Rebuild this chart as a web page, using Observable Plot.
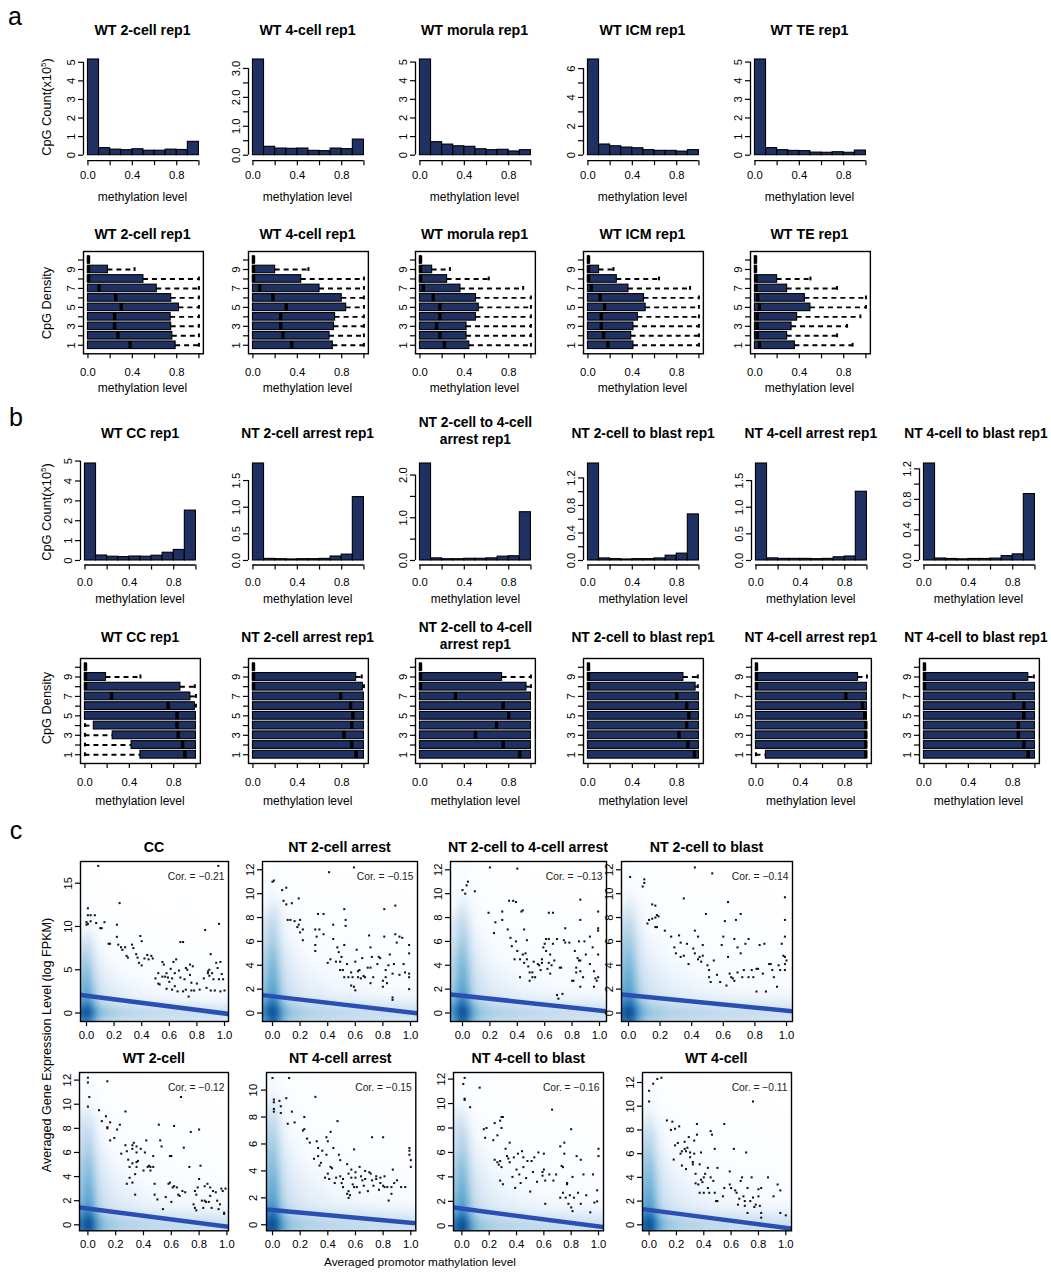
<!DOCTYPE html>
<html><head><meta charset="utf-8">
<script src="https://cdn.jsdelivr.net/npm/d3@7"></script>
<script src="https://cdn.jsdelivr.net/npm/@observablehq/plot@0.6"></script>
<style>
body{margin:0;background:#fff;}
#page{position:relative;width:1051px;height:1273px;background:#fff;overflow:hidden;font-family:"Liberation Sans",Arial,Helvetica,sans-serif;color:#000;}
.lbl{position:absolute;white-space:nowrap;line-height:1;text-align:center;}
.lbl sup{font-size:8px;vertical-align:5px;line-height:0;}
</style></head><body><div id="page"></div><script>
// ---------------- DATA ----------------
const binEdges = [0, 0.1, 0.2, 0.3, 0.4, 0.5, 0.6, 0.7, 0.8, 0.9, 1.0];
const xTicks = [0, 0.2, 0.4, 0.6, 0.8, 1.0];
const xLabelsSparse = ["0.0", "", "0.4", "", "0.8", ""];
const xLabelsFull = ["0.0", "0.2", "0.4", "0.6", "0.8", "1.0"];
const densityTicks = [1, 2, 3, 4, 5, 6, 7, 8, 9, 10];
const densityLabels = ["1", "", "3", "", "5", "", "7", "", "9", ""];

// panel a histograms (CpG count, x10^5)
const titlesA = ["WT 2-cell rep1", "WT 4-cell rep1", "WT morula rep1", "WT ICM rep1", "WT TE rep1"];
const histWT2cell = [5.15, 0.38, 0.30, 0.27, 0.32, 0.24, 0.24, 0.30, 0.28, 0.72];
const histWT4cell = [3.31, 0.29, 0.23, 0.22, 0.23, 0.15, 0.14, 0.23, 0.21, 0.54];
const histWTmorula = [5.14, 0.70, 0.57, 0.48, 0.45, 0.32, 0.27, 0.29, 0.20, 0.27];
const histWTICM = [6.63, 0.74, 0.62, 0.53, 0.48, 0.35, 0.30, 0.30, 0.25, 0.35];
const histWTTE = [5.14, 0.38, 0.27, 0.23, 0.22, 0.14, 0.13, 0.16, 0.13, 0.25];
const yTicksA = [[0,1,2,3,4,5],[0,0.5,1,1.5,2,2.5,3],[0,1,2,3,4,5],[0,1,2,3,4,5,6],[0,1,2,3,4,5]];
const yLabelsA = [["0","1","2","3","4","5"],["0.0","","1.0","","2.0","","3.0"],["0","1","2","3","4","5"],["0","","2","","4","","6"],["0","1","2","3","4","5"]];

// panel a boxplots by CpG density (rows 1..10)
const boxWT2cell = {q3:[0.79,0.76,0.75,0.745,0.82,0.75,0.62,0.50,0.18,0.015], med:[0.38,0.27,0.24,0.24,0.30,0.25,0.10,0.005,0.005,0.005], hi:[1,1,1,1,1,1,1,1,0.42,0.015]};
const boxWT4cell = {q3:[0.72,0.69,0.73,0.74,0.84,0.80,0.60,0.435,0.20,0.015], med:[0.35,0.27,0.25,0.25,0.30,0.18,0.06,0.005,0.005,0.005], hi:[1,1,1,1,1,1,1,1,0.50,0.015]};
const boxWTmorula = {q3:[0.445,0.42,0.42,0.505,0.53,0.505,0.365,0.245,0.11,0.015], med:[0.22,0.18,0.15,0.18,0.18,0.12,0.03,0.005,0.005,0.005], hi:[1,1,1,1,1,1,0.93,0.62,0.27,0.015]};
const boxWTICM = {q3:[0.41,0.39,0.41,0.45,0.52,0.505,0.365,0.26,0.10,0.015], med:[0.18,0.14,0.12,0.12,0.15,0.11,0.03,0.005,0.005,0.005], hi:[1,1,1,1,1,1,0.92,0.64,0.23,0.015]};
const boxWTTE = {q3:[0.36,0.29,0.33,0.38,0.50,0.45,0.29,0.20,0.015,0.015], med:[0.04,0.02,0.02,0.02,0.04,0.025,0.01,0.01,0.005,0.005], hi:[0.88,0.74,0.83,0.95,1,1,0.74,0.50,0.015,0.015]};

// panel b histograms
const titlesB = ["WT CC rep1", "NT 2-cell arrest rep1", "NT 2-cell to 4-cell<br>arrest rep1", "NT 2-cell to blast rep1", "NT 4-cell arrest rep1", "NT 4-cell to blast rep1"];
const histWTCC = [4.88, 0.25, 0.19, 0.17, 0.20, 0.19, 0.24, 0.39, 0.53, 2.51];
const histNT2arrest = [1.82, 0.03, 0.025, 0.02, 0.025, 0.025, 0.03, 0.075, 0.11, 1.19];
const histNT2to4 = [2.27, 0.05, 0.03, 0.03, 0.04, 0.04, 0.05, 0.09, 0.10, 1.13];
const histNT2blast = [1.41, 0.03, 0.02, 0.015, 0.02, 0.02, 0.03, 0.07, 0.10, 0.67];
const histNT4arrest = [1.82, 0.04, 0.03, 0.03, 0.03, 0.025, 0.03, 0.06, 0.075, 1.29];
const histNT4blast = [1.27, 0.026, 0.02, 0.015, 0.02, 0.02, 0.025, 0.057, 0.08, 0.87];
const yTicksB = [[0,1,2,3,4,5],[0,0.5,1,1.5],[0,0.5,1,1.5,2],[0,0.2,0.4,0.6,0.8,1.0,1.2],[0,0.5,1,1.5],[0,0.2,0.4,0.6,0.8,1.0,1.2]];
const yLabelsB = [["0","1","2","3","4","5"],["0.0","0.5","1.0","1.5"],["0.0","","1.0","","2.0"],["0.0","","0.4","","0.8","","1.2"],["0.0","0.5","1.0","1.5"],["0.0","","0.4","","0.8","","1.2"]];

// panel b boxplots
const boxWTCC = {lo:[0,0,0,0,0,0,0,0,0,0], q1:[0.5,0.42,0.25,0.08,0,0,0,0,0,0], med:[0.90,0.88,0.84,0.83,0.83,0.75,0.24,0.005,0.005,0.005], q3:[1,1,1,1,1,0.99,0.95,0.86,0.19,0.015], hi:[1,1,1,1,1,1,1,0.99,0.5,0.015]};
const boxNT2arrest = {med:[0.93,0.89,0.82,0.89,0.90,0.88,0.79,0.005,0.005,0.005], q3:[1,1,1,1,1,1,1,0.99,0.93,0.015], hi:[1,1,1,1,1,1,1,1,0.98,0.015]};
const boxNT2to4 = {med:[0.90,0.75,0.50,0.69,0.80,0.75,0.32,0.005,0.005,0.005], q3:[1,1,1,1,1,1,1,0.96,0.74,0.015], hi:[1,1,1,1,1,1,1,1,1,0.015]};
const boxNT2blast = {med:[0.96,0.90,0.82,0.89,0.91,0.89,0.80,0.005,0.005,0.005], q3:[1,1,1,1,1,1,1,0.97,0.86,0.015], hi:[1,1,1,1,1,1,1,0.99,0.99,0.015]};
const boxNT4arrest = {lo:[0,0,0,0,0,0,0,0,0,0], q1:[0.09,0,0,0,0,0,0,0,0,0], med:[0.99,0.99,0.99,0.99,0.98,0.96,0.81,0.005,0.005,0.005], q3:[1,1,1,1,1,1,1,1,0.92,0.015], hi:[1,1,1,1,1,1,1,1,1,0.015]};
const boxNT4blast = {med:[0.94,0.90,0.85,0.85,0.90,0.90,0.81,0.005,0.005,0.005], q3:[1,1,1,1,1,1,1,1,0.94,0.015], hi:[1,1,1,1,1,1,1,1,0.99,0.015]};

// panel c scatter (expression vs promoter methylation)
const titlesC = ["CC", "NT 2-cell arrest", "NT 2-cell to 4-cell arrest", "NT 2-cell to blast", "WT 2-cell", "NT 4-cell arrest", "NT 4-cell to blast", "WT 4-cell"];
const corLabels = ["Cor. = \u22120.21", "Cor. = \u22120.15", "Cor. = \u22120.13", "Cor. = \u22120.14", "Cor. = \u22120.12", "Cor. = \u22120.15", "Cor. = \u22120.16", "Cor. = \u22120.11"];
const regIntercept = [2.0, 1.4, 1.45, 1.5, 1.35, 1.1, 1.4, 1.25];
const regSlope = [-2.05, -1.35, -1.25, -1.3, -1.5, -0.95, -1.45, -1.5];
const yTicksC = [[0,5,10,15],[0,2,4,6,8,10,12],[0,2,4,6,8,10,12],[0,2,4,6,8,10,12],[0,2,4,6,8,10,12],[0,2,4,6,8,10],[0,2,4,6,8,10,12],[0,2,4,6,8,10,12]];

const ptsCC = [[0.01,12.1],[0.01,11.3],[0.03,11.3],[0.06,11.3],[0.0,10.5],[0.01,10.3],[0.03,10.6],[0.07,10.4],[0.0,10.2],[0.085,17.0],[0.10,9.8],[0.11,9.8],[0.13,10.5],[0.16,8.0],[0.17,8.0],[0.22,10.2],[0.24,12.7],[0.22,8.8],[0.23,7.9],[0.25,7.6],[0.26,7.3],[0.28,7.6],[0.29,6.6],[0.30,6.4],[0.33,7.9],[0.34,7.5],[0.36,6.8],[0.37,6.4],[0.38,5.8],[0.39,8.9],[0.40,8.3],[0.40,5.5],[0.42,6.3],[0.44,6.7],[0.45,6.2],[0.47,6.6],[0.48,6.3],[0.50,4.0],[0.52,4.6],[0.52,3.4],[0.53,3.3],[0.55,5.9],[0.56,5.6],[0.57,4.2],[0.58,4.6],[0.58,2.8],[0.59,4.1],[0.60,3.6],[0.61,5.1],[0.62,2.7],[0.62,4.0],[0.63,5.9],[0.64,3.1],[0.65,6.2],[0.66,2.5],[0.67,4.9],[0.68,8.2],[0.70,8.2],[0.70,2.5],[0.71,3.9],[0.72,2.7],[0.72,5.2],[0.73,5.0],[0.74,1.9],[0.75,5.6],[0.75,4.4],[0.76,2.6],[0.76,3.5],[0.77,5.4],[0.78,2.6],[0.80,3.4],[0.82,2.7],[0.85,4.0],[0.86,9.6],[0.87,2.9],[0.88,4.6],[0.89,5.0],[0.89,4.3],[0.90,6.8],[0.90,2.6],[0.91,4.6],[0.92,3.9],[0.93,2.6],[0.94,5.8],[0.95,5.2],[0.96,10.3],[0.96,3.9],[0.97,5.9],[0.98,4.5],[0.99,3.9],[1.0,2.6],[0.97,2.5],[0.55,4.2],[0.64,4.6],[0.68,4.1],[0.88,4.8],[0.955,17.0]];
const ptsNT2arrest = [[0.0,11.0],[0.01,11.1],[0.07,10.3],[0.10,10.5],[0.08,9.4],[0.10,9.1],[0.14,9.2],[0.19,9.6],[0.11,7.8],[0.13,7.8],[0.16,7.7],[0.18,7.2],[0.19,7.4],[0.20,7.8],[0.22,7.0],[0.20,6.75],[0.22,6.1],[0.31,5.2],[0.31,5.7],[0.31,7.0],[0.32,6.4],[0.33,8.3],[0.37,8.3],[0.34,7.0],[0.37,6.6],[0.40,4.2],[0.42,4.5],[0.44,7.4],[0.44,6.2],[0.46,4.3],[0.47,5.5],[0.48,5.1],[0.49,4.3],[0.49,3.6],[0.50,4.7],[0.51,3.6],[0.52,8.7],[0.53,7.8],[0.53,7.3],[0.52,5.7],[0.52,3.0],[0.54,4.1],[0.55,3.0],[0.57,3.4],[0.57,2.3],[0.58,3.0],[0.59,2.2],[0.60,1.9],[0.60,4.3],[0.61,5.3],[0.62,3.0],[0.63,3.6],[0.64,2.9],[0.65,4.6],[0.67,3.0],[0.69,3.8],[0.70,6.5],[0.71,3.8],[0.71,5.5],[0.71,2.5],[0.72,4.7],[0.73,3.0],[0.76,4.1],[0.77,4.7],[0.78,4.6],[0.80,2.7],[0.80,2.2],[0.81,8.7],[0.81,6.4],[0.82,3.6],[0.83,2.5],[0.84,4.0],[0.85,4.9],[0.87,1.3],[0.87,1.1],[0.88,4.1],[0.89,9.0],[0.89,6.6],[0.90,5.9],[0.92,3.2],[0.92,6.4],[0.94,6.3],[0.95,4.1],[0.96,3.4],[0.99,5.7],[0.99,5.0],[0.99,3.3],[0.99,2.0],[0.99,3.0],[0.59,12.2],[0.41,11.8],[0.87,3.3],[0.82,3.0],[0.62,3.5],[0.66,3.1]];
const ptsNT2to4 = [[0.0,10.3],[0.03,10.7],[0.04,11.0],[0.02,10.0],[0.09,10.2],[0.20,12.2],[0.19,8.4],[0.24,7.6],[0.23,6.7],[0.29,8.5],[0.29,7.8],[0.33,7.0],[0.34,9.4],[0.37,9.4],[0.39,9.3],[0.35,6.3],[0.36,5.6],[0.38,4.5],[0.39,6.0],[0.40,5.2],[0.42,4.5],[0.42,3.0],[0.43,8.5],[0.44,8.6],[0.44,4.9],[0.45,7.0],[0.45,4.2],[0.47,6.1],[0.47,4.5],[0.48,3.9],[0.49,3.4],[0.49,2.7],[0.51,3.0],[0.51,3.4],[0.53,3.0],[0.40,12.1],[0.56,4.0],[0.58,4.2],[0.58,4.5],[0.59,5.5],[0.60,5.8],[0.61,5.2],[0.61,6.2],[0.62,3.7],[0.63,4.2],[0.63,8.4],[0.63,6.2],[0.64,3.3],[0.64,4.9],[0.65,4.0],[0.66,5.8],[0.66,8.4],[0.67,4.4],[0.69,6.2],[0.69,1.5],[0.70,1.2],[0.71,3.8],[0.72,3.8],[0.73,1.6],[0.74,6.1],[0.75,7.1],[0.75,5.9],[0.78,5.9],[0.80,2.7],[0.81,2.7],[0.82,5.2],[0.83,3.8],[0.83,3.4],[0.84,4.6],[0.85,6.0],[0.85,4.4],[0.86,4.4],[0.86,9.5],[0.86,7.8],[0.86,3.5],[0.86,2.2],[0.88,3.0],[0.89,6.0],[0.90,4.9],[0.93,4.1],[0.93,6.4],[0.95,5.5],[0.96,3.5],[0.96,2.2],[0.97,2.9],[0.98,2.7],[0.99,7.1],[0.99,6.9],[0.99,8.5],[0.99,4.9],[0.99,3.0],[0.55,4.1],[0.52,4.3],[0.57,3.6],[0.46,5.0]];
const ptsNT2blast = [[0.01,11.4],[0.09,10.6],[0.10,10.9],[0.10,11.2],[0.15,9.1],[0.17,9.0],[0.12,7.5],[0.13,7.8],[0.15,7.9],[0.17,8.0],[0.18,8.2],[0.19,8.1],[0.17,7.2],[0.18,7.2],[0.23,6.9],[0.27,6.4],[0.29,5.5],[0.30,5.0],[0.32,6.5],[0.33,4.7],[0.33,5.9],[0.35,9.6],[0.35,4.8],[0.37,5.8],[0.38,4.1],[0.41,5.4],[0.42,6.9],[0.42,12.2],[0.42,5.0],[0.44,4.5],[0.44,6.4],[0.45,4.7],[0.46,4.3],[0.47,5.7],[0.47,4.8],[0.49,8.3],[0.50,4.0],[0.51,3.6],[0.51,3.0],[0.52,2.6],[0.53,11.7],[0.54,4.4],[0.58,2.6],[0.59,5.7],[0.60,6.4],[0.61,7.7],[0.62,2.3],[0.63,4.7],[0.63,9.3],[0.64,3.3],[0.65,3.0],[0.66,2.9],[0.67,6.2],[0.67,2.7],[0.68,7.8],[0.69,5.5],[0.71,5.0],[0.71,8.3],[0.72,3.0],[0.73,3.6],[0.74,5.8],[0.76,6.2],[0.76,3.0],[0.78,3.6],[0.79,3.0],[0.81,3.7],[0.81,1.8],[0.82,3.7],[0.83,5.7],[0.85,3.3],[0.86,5.8],[0.87,1.8],[0.89,4.1],[0.90,4.1],[0.91,3.6],[0.92,3.0],[0.94,2.2],[0.95,4.0],[0.96,3.6],[0.97,5.8],[0.98,4.8],[0.99,9.7],[0.99,7.8],[0.99,6.4],[0.99,4.7],[0.99,4.1],[0.99,3.6],[1.0,4.4],[0.56,3.2],[0.69,3.4]];
const ptsWT2cell = [[0.0,9.8],[0.0,12.2],[0.0,11.8],[0.01,10.6],[0.08,9.5],[0.10,8.6],[0.13,9.0],[0.14,8.1],[0.14,8.0],[0.14,11.9],[0.16,8.5],[0.16,7.0],[0.19,7.2],[0.21,7.9],[0.23,8.3],[0.24,5.9],[0.27,9.4],[0.27,6.6],[0.28,6.1],[0.28,3.4],[0.29,5.4],[0.30,4.8],[0.30,3.9],[0.32,6.6],[0.32,6.3],[0.32,5.1],[0.32,3.5],[0.33,6.8],[0.34,4.2],[0.34,2.5],[0.35,6.5],[0.35,6.0],[0.35,5.2],[0.35,4.8],[0.36,5.3],[0.38,6.3],[0.40,4.5],[0.41,6.0],[0.42,7.0],[0.43,4.8],[0.44,4.9],[0.45,4.5],[0.45,4.8],[0.47,4.8],[0.47,5.7],[0.48,3.4],[0.48,2.5],[0.50,2.1],[0.51,8.3],[0.52,7.0],[0.53,6.5],[0.54,1.3],[0.56,2.3],[0.58,3.4],[0.59,5.7],[0.59,3.5],[0.60,5.7],[0.60,1.9],[0.61,3.1],[0.62,8.2],[0.62,3.2],[0.64,3.1],[0.65,2.5],[0.66,2.4],[0.67,10.6],[0.68,2.8],[0.69,6.4],[0.70,2.7],[0.73,4.8],[0.74,7.7],[0.76,1.7],[0.77,1.4],[0.77,2.8],[0.78,2.5],[0.78,1.2],[0.79,3.1],[0.80,3.8],[0.81,4.9],[0.82,2.0],[0.83,1.4],[0.84,3.2],[0.84,2.0],[0.85,1.9],[0.86,3.4],[0.87,1.9],[0.88,2.4],[0.88,3.1],[0.89,1.4],[0.90,2.8],[0.92,2.7],[0.93,2.0],[0.94,1.3],[0.95,1.7],[0.96,3.0],[0.97,2.8],[0.98,1.0],[0.98,0.9],[0.99,3.0],[0.80,7.9]];
const ptsNT4arrest = [[0.0,10.9],[0.01,9.3],[0.01,9.1],[0.01,8.6],[0.01,8.4],[0.05,9.2],[0.06,8.8],[0.06,8.3],[0.10,9.4],[0.11,7.5],[0.12,10.9],[0.14,8.4],[0.16,7.6],[0.22,7.0],[0.23,8.0],[0.23,7.1],[0.25,6.4],[0.27,6.1],[0.30,4.9],[0.31,9.5],[0.32,6.2],[0.33,5.1],[0.33,5.7],[0.34,4.4],[0.35,4.6],[0.36,5.5],[0.38,3.5],[0.39,6.5],[0.39,5.2],[0.40,6.2],[0.40,3.8],[0.41,3.4],[0.42,4.3],[0.42,6.9],[0.43,4.2],[0.44,5.7],[0.45,3.1],[0.46,3.5],[0.47,7.7],[0.48,5.2],[0.49,4.8],[0.49,3.6],[0.50,3.1],[0.51,2.8],[0.51,3.4],[0.54,4.5],[0.54,2.3],[0.55,2.0],[0.55,2.5],[0.55,3.8],[0.57,4.1],[0.57,3.5],[0.58,3.0],[0.59,5.6],[0.59,2.8],[0.60,3.5],[0.60,3.9],[0.61,2.8],[0.63,2.4],[0.63,4.3],[0.64,3.6],[0.65,3.3],[0.66,2.9],[0.67,4.0],[0.67,3.4],[0.69,2.5],[0.70,3.9],[0.71,3.8],[0.72,3.3],[0.72,6.5],[0.73,2.9],[0.75,3.4],[0.75,3.6],[0.77,2.6],[0.78,3.1],[0.78,3.5],[0.80,2.9],[0.81,2.8],[0.81,3.6],[0.83,2.8],[0.84,1.8],[0.86,2.3],[0.86,2.8],[0.87,4.1],[0.88,3.1],[0.90,3.3],[0.93,2.8],[0.96,2.8],[0.99,5.7],[0.99,5.5],[1.0,4.8],[1.0,4.3],[0.99,5.2],[0.80,6.5],[0.56,2.2]];
const ptsNT4blast = [[0.01,11.6],[0.02,12.1],[0.02,10.4],[0.02,10.3],[0.06,9.7],[0.13,11.3],[0.16,7.9],[0.17,7.2],[0.18,8.0],[0.23,7.0],[0.24,8.4],[0.26,7.4],[0.28,8.6],[0.29,8.0],[0.29,8.9],[0.30,8.9],[0.24,5.4],[0.26,5.2],[0.27,5.0],[0.28,5.3],[0.29,4.8],[0.28,3.7],[0.30,3.4],[0.32,6.3],[0.33,5.7],[0.34,5.5],[0.35,6.8],[0.35,5.2],[0.37,4.0],[0.40,4.6],[0.41,5.9],[0.42,4.2],[0.43,3.5],[0.44,6.1],[0.39,3.1],[0.38,5.6],[0.45,4.8],[0.47,3.9],[0.48,5.3],[0.50,2.8],[0.52,4.4],[0.55,3.6],[0.56,6.0],[0.45,5.6],[0.51,5.3],[0.53,5.6],[0.60,5.9],[0.59,4.4],[0.59,4.1],[0.60,4.6],[0.61,3.7],[0.61,1.8],[0.64,4.2],[0.66,9.5],[0.67,3.7],[0.69,4.2],[0.72,2.3],[0.72,6.5],[0.73,4.9],[0.74,4.8],[0.74,2.7],[0.75,6.8],[0.75,5.9],[0.76,2.3],[0.77,3.5],[0.77,3.4],[0.78,1.8],[0.79,2.5],[0.80,1.5],[0.81,1.2],[0.80,7.9],[0.81,4.0],[0.82,2.3],[0.84,5.7],[0.85,2.7],[0.87,5.4],[0.87,1.8],[0.89,4.2],[0.91,2.5],[0.94,1.1],[0.96,4.2],[0.97,1.9],[0.99,2.9],[0.99,2.0],[1.0,6.3],[1.0,5.7]];
const ptsWT4cell = [[0.0,10.4],[0.0,11.3],[0.03,11.9],[0.06,12.3],[0.09,12.4],[0.13,8.8],[0.17,8.7],[0.16,8.0],[0.19,8.1],[0.18,5.5],[0.19,6.7],[0.21,6.9],[0.22,8.3],[0.23,6.0],[0.24,6.2],[0.24,5.0],[0.26,7.0],[0.26,6.4],[0.27,6.2],[0.27,4.7],[0.28,6.5],[0.29,7.4],[0.30,5.7],[0.30,6.1],[0.32,5.1],[0.32,5.3],[0.33,7.1],[0.33,6.0],[0.34,4.3],[0.34,3.5],[0.35,8.5],[0.35,7.6],[0.36,3.4],[0.37,5.1],[0.37,2.7],[0.38,3.8],[0.38,6.1],[0.39,3.6],[0.40,4.0],[0.40,2.7],[0.41,4.3],[0.43,4.8],[0.43,3.1],[0.44,2.7],[0.45,4.0],[0.45,7.9],[0.46,7.6],[0.47,3.7],[0.48,6.4],[0.48,2.7],[0.49,2.0],[0.50,4.8],[0.50,2.0],[0.55,8.5],[0.54,2.4],[0.55,3.1],[0.59,4.5],[0.59,3.4],[0.60,3.1],[0.62,6.4],[0.63,2.9],[0.64,2.7],[0.65,1.7],[0.66,2.2],[0.67,3.7],[0.68,4.0],[0.69,2.4],[0.70,2.0],[0.70,1.6],[0.71,6.1],[0.72,1.0],[0.74,2.0],[0.75,4.0],[0.76,2.3],[0.76,10.4],[0.77,1.5],[0.78,1.7],[0.80,3.0],[0.80,2.4],[0.81,1.6],[0.82,1.0],[0.82,0.6],[0.87,4.0],[0.91,2.4],[0.94,3.4],[0.96,2.9],[0.96,1.0],[1.0,0.8],[0.72,3.1],[0.82,3.1]];

// estimated smoothed point density (relative intensity) behind the scatter plots
const densX = [-0.15, 0, 0.025, 0.06, 0.12, 0.25, 0.45, 0.7, 1.1];
const densY = [-2, -0.6, 0, 0.7, 1.5, 3, 5, 7.5, 10, 13, 19];
const densityGrid = [
  [0.10, 0.30, 0.30, 0.25, 0.18, 0.15, 0.13, 0.12, 0.10],
  [0.25, 0.85, 0.80, 0.55, 0.40, 0.33, 0.30, 0.28, 0.24],
  [0.30, 1.00, 0.95, 0.65, 0.50, 0.42, 0.38, 0.35, 0.30],
  [0.25, 0.85, 0.80, 0.55, 0.40, 0.32, 0.28, 0.25, 0.22],
  [0.18, 0.68, 0.62, 0.42, 0.30, 0.22, 0.17, 0.14, 0.12],
  [0.14, 0.60, 0.55, 0.36, 0.25, 0.17, 0.12, 0.09, 0.07],
  [0.10, 0.52, 0.46, 0.28, 0.18, 0.11, 0.07, 0.05, 0.04],
  [0.06, 0.38, 0.32, 0.18, 0.10, 0.06, 0.04, 0.03, 0.02],
  [0.03, 0.15, 0.12, 0.08, 0.05, 0.03, 0.02, 0.02, 0.01],
  [0.01, 0.04, 0.04, 0.03, 0.02, 0.02, 0.01, 0.01, 0.00],
  [0.00, 0.01, 0.01, 0.01, 0.01, 0.00, 0.00, 0.00, 0.00]
];

// ---------------- STYLE / LAYOUT ----------------
const FONT = '"Liberation Sans", Arial, Helvetica, sans-serif';
const NAVY = "#1f3062";
const REG = "#2a4fb2";
const RAMP = ["#FFFFFF","#F7FBFF","#DEEBF7","#C6DBEF","#9ECAE1","#6BAED6","#4292C6","#2171B5","#08519C","#08306B"];
const TITLE_SIZE = 14.2;
const TITLE_SIZE_B = 13.8;
const LABEL_SIZE = 12;
const stage = document.getElementById("page");

function fmt(ticks, labels) { return d => { const i = ticks.indexOf(d); return i < 0 ? "" : labels[i]; }; }

function mount(fx, fy, fw, fh, opts) {
  const ML = 42, MR = 10, MT = 8, MB = 34;
  const svg = Plot.plot({
    width: fw + ML + MR, height: fh + MT + MB,
    marginLeft: ML, marginRight: MR, marginTop: MT, marginBottom: MB,
    style: {fontFamily: FONT, fontSize: "11px", background: "none", overflow: "visible", color: "#000"},
    ...opts
  });
  svg.style.position = "absolute";
  svg.style.left = (fx - ML) + "px";
  svg.style.top = (fy - MT) + "px";
  svg.style.maxWidth = "none";
  stage.appendChild(svg);
}

function addText(html, x, y, o = {}) {
  const el = document.createElement("div");
  el.className = "lbl";
  el.innerHTML = html;
  el.style.left = x + "px";
  el.style.top = y + "px";
  el.style.fontSize = (o.size || LABEL_SIZE) + "px";
  if (o.bold) el.style.fontWeight = "bold";
  if (o.lh) el.style.lineHeight = o.lh + "px";
  el.style.transform = o.rot ? "translate(-50%,-50%) rotate(-90deg)" : "translate(-50%,-50%)";
  stage.appendChild(el);
}

const U = 111; // px per methylation unit in panels a/b

function xAxis(labels, pad) {
  return Plot.axisX({ticks: xTicks, tickFormat: fmt(xTicks, labels), tickSize: 5, tickPadding: pad, fontSize: 11.3, strokeWidth: 1.2, label: null});
}
function yAxis(ticks, format) {
  return Plot.axisY({ticks, tickFormat: format, tickSize: 5, tickRotate: -90, fontSize: 11.3, strokeWidth: 1.2, label: null});
}

function histogram(counts, yTicks, yLabels, x0, base, peak, axisY, pad) {
  const fx = x0 - 0.04 * U, fw = 1.08 * U;
  const k = (base - peak) / d3.max(counts);
  const fy = peak - 6, fh = axisY - fy;
  const ydom = [-(axisY - base) / k, (base - fy) / k];
  const bars = counts.map((c, j) => ({x1: binEdges[j], x2: binEdges[j + 1], c}));
  mount(fx, fy, fw, fh, {
    x: {domain: [-0.04, 1.04]}, y: {domain: ydom},
    marks: [
      Plot.rect(bars, {x1: "x1", x2: "x2", y1: 0, y2: "c", fill: NAVY, stroke: "#000", strokeWidth: 1.1}),
      Plot.ruleY([ydom[0]], {x1: 0, x2: 1, stroke: "#000", strokeWidth: 1.3}),
      Plot.ruleX([-0.04], {y1: yTicks[0], y2: yTicks[yTicks.length - 1], stroke: "#000", strokeWidth: 1.3}),
      xAxis(xLabelsSparse, pad),
      yAxis(yTicks, fmt(yTicks, yLabels))
    ]
  });
}

function boxplot(st, x0, top, bottom, pad) {
  const rows = st.med.map((m, i) => ({r: i + 1, lo: st.lo ? st.lo[i] : 0, q1: st.q1 ? st.q1[i] : 0, med: m, q3: st.q3[i], hi: st.hi[i]}));
  const upper = rows.filter(d => d.hi > d.q3 + 0.005);
  const lower = rows.filter(d => d.lo < d.q1 - 0.005);
  const fx = x0 - 0.04 * U, fw = 1.08 * U;
  mount(fx, top, fw, bottom - top, {
    x: {domain: [-0.04, 1.04]}, y: {domain: [0.1, 10.9]},
    marks: [
      Plot.ruleY(upper, {y: "r", x1: "q3", x2: "hi", stroke: "#000", strokeWidth: 1.9, strokeDasharray: "5,4"}),
      Plot.ruleY(lower, {y: "r", x1: "lo", x2: "q1", stroke: "#000", strokeWidth: 1.9, strokeDasharray: "5,4"}),
      Plot.ruleX(upper, {x: "hi", y1: d => d.r - 0.2, y2: d => d.r + 0.2, stroke: "#000", strokeWidth: 2}),
      Plot.ruleX(lower, {x: "lo", y1: d => d.r - 0.2, y2: d => d.r + 0.2, stroke: "#000", strokeWidth: 2}),
      Plot.rect(rows, {x1: "q1", x2: "q3", y1: d => d.r - 0.4, y2: d => d.r + 0.4, fill: NAVY, stroke: "#000", strokeWidth: 1.1}),
      Plot.ruleX(rows, {x: "med", y1: d => d.r - 0.4, y2: d => d.r + 0.4, stroke: "#000", strokeWidth: 3.4}),
      Plot.frame({stroke: "#000", strokeWidth: 1.4}),
      xAxis(xLabelsSparse, pad),
      yAxis(densityTicks, fmt(densityTicks, densityLabels))
    ]
  });
}

const densPts = [];
densY.forEach((y, r) => densX.forEach((x, c) => densPts.push({x, y, v: densityGrid[r][c]})));

// frame [left, top, right, bottom], pixel of x=0, x=1, y=0 and of the last y tick
const cGeom = [
  {f: [80, 861, 228, 1021], x0: 86, x1: 224, y0: 1012.5, yt: 882.7},
  {f: [262, 861, 417, 1021], x0: 272, x1: 410, y0: 1012.5, yt: 869.3},
  {f: [450, 861, 606, 1021], x0: 462, x1: 599, y0: 1012.5, yt: 869.3},
  {f: [621, 861, 792, 1021], x0: 628, x1: 786, y0: 1012.5, yt: 869.3},
  {f: [79.3, 1071.7, 228.3, 1230], x0: 87.7, x1: 226.7, y0: 1224, yt: 1079.3},
  {f: [265.7, 1071.7, 415, 1230], x0: 271.7, x1: 410, y0: 1224, yt: 1089.3},
  {f: [453.3, 1071.7, 603.3, 1230], x0: 461.7, x1: 598.3, y0: 1225, yt: 1078.3},
  {f: [641.7, 1071.7, 790.7, 1230], x0: 648.3, x1: 785, y0: 1224, yt: 1081.7}
];
const ptsC = [ptsCC, ptsNT2arrest, ptsNT2to4, ptsNT2blast, ptsWT2cell, ptsNT4arrest, ptsNT4blast, ptsWT4cell];

function scatter(i) {
  const g = cGeom[i];
  const [fl, ft, fr, fb] = g.f;
  const yT = yTicksC[i][yTicksC[i].length - 1];
  const ux = g.x1 - g.x0, uy = (g.y0 - g.yt) / yT;
  const xdom = [(fl - g.x0) / ux, (fr - g.x0) / ux];
  const ydom = [-(fb - g.y0) / uy, (g.y0 - ft) / uy];
  const a = regIntercept[i], b = regSlope[i];
  const reg = [[xdom[0], a + b * xdom[0]], [xdom[1], a + b * xdom[1]]];
  mount(fl, ft, fr - fl, fb - ft, {
    x: {domain: xdom}, y: {domain: ydom},
    color: {type: "linear", domain: RAMP.map((_, j) => j / (RAMP.length - 1)), range: RAMP, clamp: true},
    marks: [
      Plot.raster(densPts, {x: "x", y: "y", fill: "v", interpolate: "barycentric", blur: 3}),
      Plot.line(reg, {x: d => d[0], y: d => d[1], stroke: REG, strokeWidth: 4.5, clip: true}),
      Plot.dot(ptsC[i], {x: d => d[0], y: d => d[1], symbol: "square", r: 1.15, fill: "#111"}),
      Plot.frame({stroke: "#000", strokeWidth: 1.4}),
      Plot.text([corLabels[i]], {text: d => d, frameAnchor: "top-right", dx: -4, dy: 11, fontSize: 10.3, textAnchor: "end", fill: "#222"}),
      xAxis(xLabelsFull, 4),
      yAxis(yTicksC[i], d => String(d))
    ]
  });
  addText(titlesC[i], (fl + fr) / 2, ft - 14, {bold: true, size: TITLE_SIZE});
}

// ---------------- BUILD ----------------
// panel a
const A_X0 = [87, 252, 419, 587, 754];
const histA = [histWT2cell, histWT4cell, histWTmorula, histWTICM, histWTTE];
const boxA = [boxWT2cell, boxWT4cell, boxWTmorula, boxWTICM, boxWTTE];
histA.forEach((c, i) => {
  histogram(c, yTicksA[i], yLabelsA[i], A_X0[i], 155, 59.3, 160.5, 5.5);
  addText(titlesA[i], A_X0[i] + 55.5, 30, {bold: true, size: TITLE_SIZE});
  addText("methylation level", A_X0[i] + 55.5, 197);
});
boxA.forEach((s, i) => {
  boxplot(s, A_X0[i], 250.7, 353, 9);
  addText(titlesA[i], A_X0[i] + 55.5, 233.5, {bold: true, size: TITLE_SIZE});
  addText("methylation level", A_X0[i] + 55.5, 388);
});
addText("CpG Count(x10<sup>5</sup>)", 47, 107, {rot: true, size: 12.8});
addText("CpG Density", 47, 303, {rot: true, size: 12.8});

// panel b
const B_X0 = [84.5, 252.2, 419.9, 587.6, 755.3, 923];
const titleShiftB = [0, 0, 0, 0, 0, -2.5];
const histB = [histWTCC, histNT2arrest, histNT2to4, histNT2blast, histNT4arrest, histNT4blast];
const boxB = [boxWTCC, boxNT2arrest, boxNT2to4, boxNT2blast, boxNT4arrest, boxNT4blast];
histB.forEach((c, i) => {
  histogram(c, yTicksB[i], yLabelsB[i], B_X0[i], 559.5, 462.5, 564, 7.5);
  const two = titlesB[i].includes("<br>");
  addText(titlesB[i], B_X0[i] + 55.5 + titleShiftB[i], two ? 431 : 433, {bold: true, size: TITLE_SIZE_B, lh: 17});
  addText("methylation level", B_X0[i] + 55.5, 599);
});
boxB.forEach((s, i) => {
  boxplot(s, B_X0[i], 658.3, 763.3, 9.5);
  const two = titlesB[i].includes("<br>");
  addText(titlesB[i], B_X0[i] + 55.5 + titleShiftB[i], two ? 635.5 : 637, {bold: true, size: TITLE_SIZE_B, lh: 17});
  addText("methylation level", B_X0[i] + 55.5, 801);
});
addText("CpG Count(x10<sup>5</sup>)", 47, 512, {rot: true, size: 12.8});
addText("CpG Density", 47, 708, {rot: true, size: 12.8});

// panel c
for (let i = 0; i < 8; i++) scatter(i);
addText("Averaged Gene Expression Level (log FPKM)", 47, 1045, {rot: true, size: 12.6});
addText("Averaged promotor mathylation level", 420, 1263, {size: 11.8});

// panel letters
addText("a", 15, 16, {size: 25});
addText("b", 16, 417, {size: 25});
addText("c", 16, 830, {size: 25});
</script></body></html>
